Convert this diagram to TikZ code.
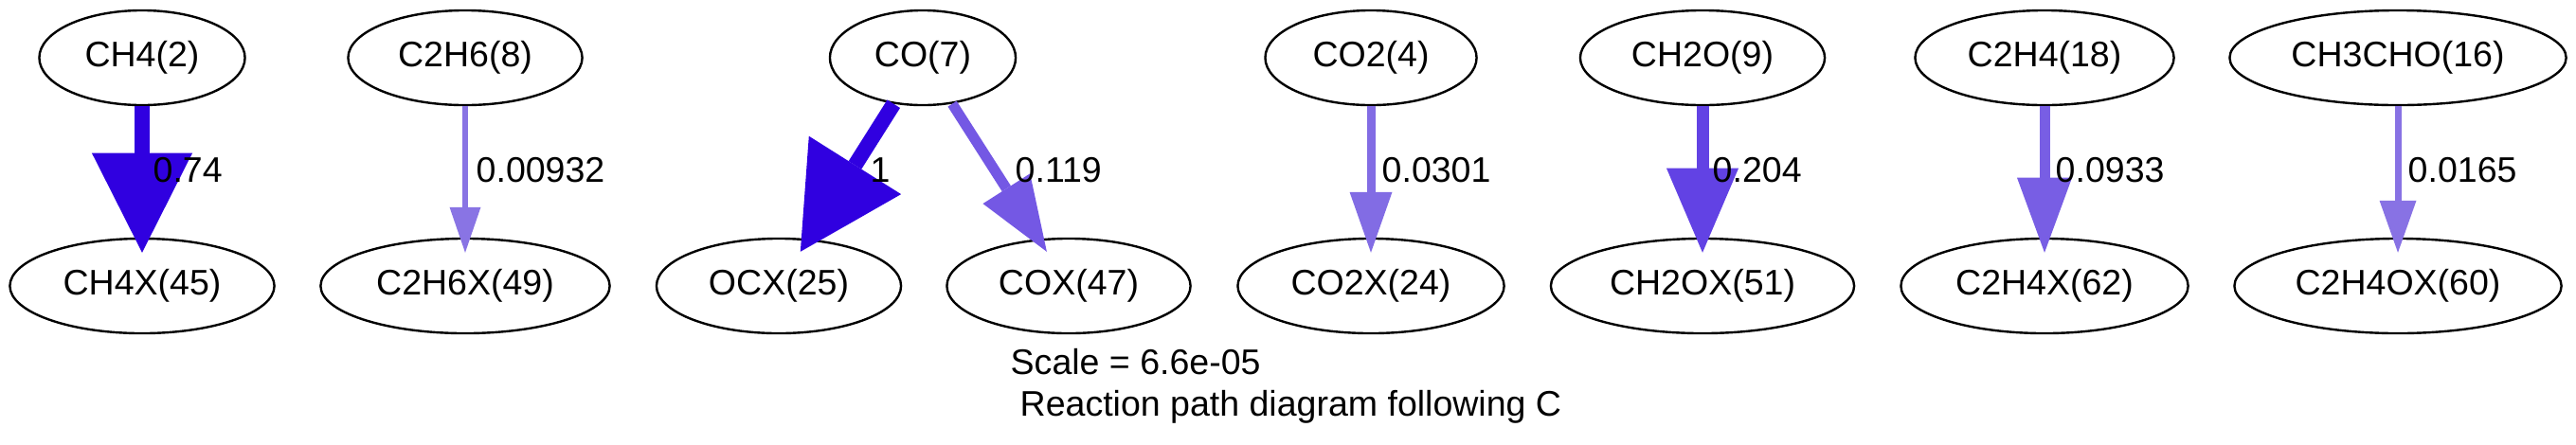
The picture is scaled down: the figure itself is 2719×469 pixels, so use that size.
\documentclass[tikz,border=0pt]{standalone}
\usepackage{fontspec}
\setmainfont{Liberation Sans}
\usetikzlibrary{shapes.geometric,arrows.meta}
\definecolor{fA}{RGB}{48,0,224}
\definecolor{fB}{RGB}{137,116,228}
\definecolor{fC}{RGB}{116,88,228}
\definecolor{fD}{RGB}{130,108,228}
\definecolor{fE}{RGB}{98,66,228}
\definecolor{fF}{RGB}{120,94,228}
\definecolor{fG}{RGB}{136,114,228}
\tikzset{
  species/.style={ellipse, draw=black, line width=0.024cm, inner sep=0pt,
    minimum height=1cm, font=\fontsize{10.67pt}{12.8pt}\selectfont},
  fluxlabel/.style={anchor=base west, inner sep=0pt,
    font=\fontsize{10.67pt}{12.8pt}\selectfont},
  flux/.style n args={4}{color=#1, line width=#2,
    -{Triangle[length=#3, width=#4, line width=0pt]}, shorten >=-0.16cm}
}
\begin{document}
\begin{tikzpicture}[x=0.01cm,y=-0.01cm]
\useasboundingbox (0,0) rectangle (2719,469);
% top row
\node[species, minimum width=2.17cm] (ch4) at (150,61) {CH4(2)};
\node[species, minimum width=2.47cm] (c2h6) at (491,61) {C2H6(8)};
\node[species, minimum width=1.96cm] (co) at (974,61) {CO(7)};
\node[species, minimum width=2.23cm] (co2) at (1447,61) {CO2(4)};
\node[species, minimum width=2.58cm] (ch2o) at (1797,61) {CH2O(9)};
\node[species, minimum width=2.73cm] (c2h4) at (2158,61) {C2H4(18)};
\node[species, minimum width=3.55cm] (ch3cho) at (2531,61) {CH3CHO(16)};
% bottom row
\node[species, minimum width=2.79cm] (ch4x) at (150,302) {CH4X(45)};
\node[species, minimum width=3.05cm] (c2h6x) at (491,302) {C2H6X(49)};
\node[species, minimum width=2.58cm] (ocx) at (822,302) {OCX(25)};
\node[species, minimum width=2.57cm] (cox) at (1128,302) {COX(47)};
\node[species, minimum width=2.81cm] (co2x) at (1447,302) {CO2X(24)};
\node[species, minimum width=3.20cm] (ch2ox) at (1797,302) {CH2OX(51)};
\node[species, minimum width=3.03cm] (c2h4x) at (2158,302) {C2H4X(62)};
\node[species, minimum width=3.45cm] (c2h4ox) at (2531,302) {C2H4OX(60)};
% edges
\draw[flux={fA}{0.16cm}{1.05cm}{1.06cm}] (ch4) -- (ch4x);
\draw[flux={fB}{0.06cm}{0.48cm}{0.33cm}] (c2h6) -- (c2h6x);
\draw[flux={fA}{0.16cm}{1.08cm}{1.15cm}] (co) -- (ocx);
\draw[flux={fC}{0.11cm}{0.79cm}{0.59cm}] (co) -- (cox);
\draw[flux={fD}{0.09cm}{0.64cm}{0.45cm}] (co2) -- (co2x);
\draw[flux={fE}{0.13cm}{0.89cm}{0.76cm}] (ch2o) -- (ch2ox);
\draw[flux={fF}{0.11cm}{0.79cm}{0.58cm}] (c2h4) -- (c2h4x);
\draw[flux={fG}{0.07cm}{0.55cm}{0.39cm}] (ch3cho) -- (c2h4ox);
% edge labels
\node[fluxlabel] (l1) at (161,192) {0.74};
\node[fluxlabel] (l2) at (502,192) {0.00932};
\node[fluxlabel] (l3) at (918,192) {1};
\node[fluxlabel] (l4) at (1071,192) {0.119};
\node[fluxlabel] (l5) at (1458,192) {0.0301};
\node[fluxlabel] (l6) at (1807,192) {0.204};
\node[fluxlabel] (l7) at (2169,192) {0.0933};
\node[fluxlabel] (l8) at (2541,192) {0.0165};
% caption
\node[fluxlabel] (scale) at (1066,395) {Scale = 6.6e-05};
\node[fluxlabel] (title) at (1076,439) {Reaction path diagram following C};
\end{tikzpicture}
\end{document}
